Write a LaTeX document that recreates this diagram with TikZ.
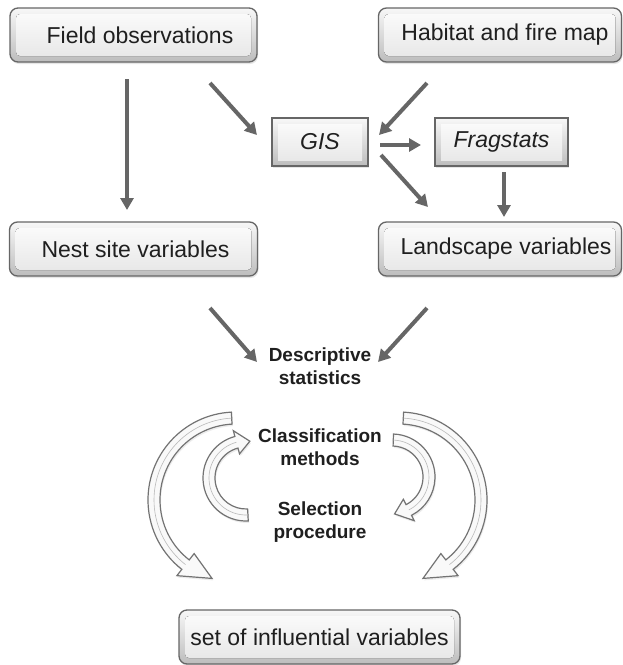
\documentclass[tikz,border=0pt]{standalone}
\usepackage{fontspec}
\setmainfont{Liberation Sans}
\usetikzlibrary{arrows.meta,calc,shadows}
\newcommand\hollowarc[8]{%
 \pgfmathsetmacro\hRo{#3+#7}\pgfmathsetmacro\hRi{#3-#7}%
 \pgfmathsetmacro\hHo{#3+#8}\pgfmathsetmacro\hHi{#3-#8}%
 \draw[hollow] ($(#1,#2)+(#4:\hRo)$) arc[start angle=#4,end angle=#5,radius=\hRo]
   -- ($(#1,#2)+(#5:\hHo)$) -- ($(#1,#2)+(#6:#3)$) -- ($(#1,#2)+(#5:\hHi)$)
   -- ($(#1,#2)+(#5:\hRi)$) arc[start angle=#5,end angle=#4,radius=\hRi] -- cycle;
 \draw[hollowline] ($(#1,#2)+(#4:#3)$) arc[start angle=#4,end angle=#5,radius=#3];
}
\tikzset{
  boxbase/.style={draw=black!60, line width=1.3pt, top color=gray!6, bottom color=gray!52,
    inner sep=0pt, text=black!88, font=\fontsize{23}{27}\selectfont,
    drop shadow={opacity=0.2, shadow xshift=1pt, shadow yshift=-2pt}},
  mainbox/.style={boxbase, rounded corners=8pt, minimum height=54pt,
    path picture={\fill[top color=gray!2, bottom color=gray!20, rounded corners=4pt]
      ([shift={(6pt,6pt)}]path picture bounding box.south west) rectangle
      ([shift={(-6pt,-6pt)}]path picture bounding box.north east);}},
  toolbox/.style={boxbase, minimum height=48pt, font=\fontsize{23}{27}\selectfont\itshape,
    path picture={\fill[top color=gray!2, bottom color=gray!20]
      ([shift={(6pt,6pt)}]path picture bounding box.south west) rectangle
      ([shift={(-6pt,-6pt)}]path picture bounding box.north east);}},
  lbl/.style={font=\fontsize{19}{23}\selectfont\bfseries, text=black!88, align=center, inner sep=0pt},
  flow/.style={draw=black!60, line width=4pt, -{Triangle[width=13pt,length=12pt]}},
  hollow/.style={draw=black!55, line width=1.2pt, fill=gray!5,
    drop shadow={opacity=0.15, shadow xshift=1pt, shadow yshift=-2pt}},
  hollowline/.style={draw=gray!55, line width=0.6pt}
}
\begin{document}
\begin{tikzpicture}[x=1pt,y=-1pt]
\useasboundingbox (0,0) rectangle (623,665);
% boxes
\node[mainbox, minimum width=247pt] (fo) at (133.5,35) {\hspace*{13pt}Field observations};
\node[mainbox, minimum width=243pt] (hf) at (500,35) {\hspace*{10pt}Habitat and fire map};
\node[toolbox, minimum width=96pt] (gis) at (320,142) {GIS};
\node[toolbox, minimum width=133pt] (fr) at (501.5,142) {Fragstats};
\node[mainbox, minimum width=248pt] (ns) at (133.5,249) {\hspace*{4pt}Nest site variables};
\node[mainbox, minimum width=243pt] (lv) at (500,249) {\hspace*{12pt}Landscape variables};
\node[mainbox, minimum width=281pt] (set) at (319.5,637) {set of influential variables};
% labels
\node[lbl] (ds) at (320,366) {Descriptive\\statistics};
\node[lbl] (cm) at (320,447) {Classification\\methods};
\node[lbl] (sp) at (320,522) {Selection\\procedure};
% arrow end points
\coordinate (a1s) at (127,79);  \coordinate (a1e) at (127,210);
\coordinate (a2s) at (210,83);  \coordinate (a2e) at (257,135);
\coordinate (a3s) at (427,83);  \coordinate (a3e) at (379,135);
\coordinate (a4s) at (380,145); \coordinate (a4e) at (421,145);
\coordinate (a5s) at (381,155); \coordinate (a5e) at (428,207);
\coordinate (a6s) at (504,172); \coordinate (a6e) at (504,217);
\coordinate (a7s) at (210,308); \coordinate (a7e) at (257,362);
\coordinate (a8s) at (427,308); \coordinate (a8e) at (378,362);
\draw[flow] (a1s) -- (a1e);
\draw[flow] (a2s) -- (a2e);
\draw[flow] (a3s) -- (a3e);
\draw[flow] (a4s) -- (a4e);
\draw[flow] (a5s) -- (a5e);
\draw[flow] (a6s) -- (a6e);
\draw[flow] (a7s) -- (a7e);
\draw[flow] (a8s) -- (a8e);
% curved hollow arrows
\hollowarc{236}{500}{82}{-93}{-232}{-253}{6}{14}
\hollowarc{399}{500}{82}{-87}{52}{73}{6}{14}
\hollowarc{246}{478}{37}{87}{255}{276}{6}{12}
\hollowarc{392}{477}{37}{-88}{63}{86}{6}{12}
\end{tikzpicture}
\end{document}
